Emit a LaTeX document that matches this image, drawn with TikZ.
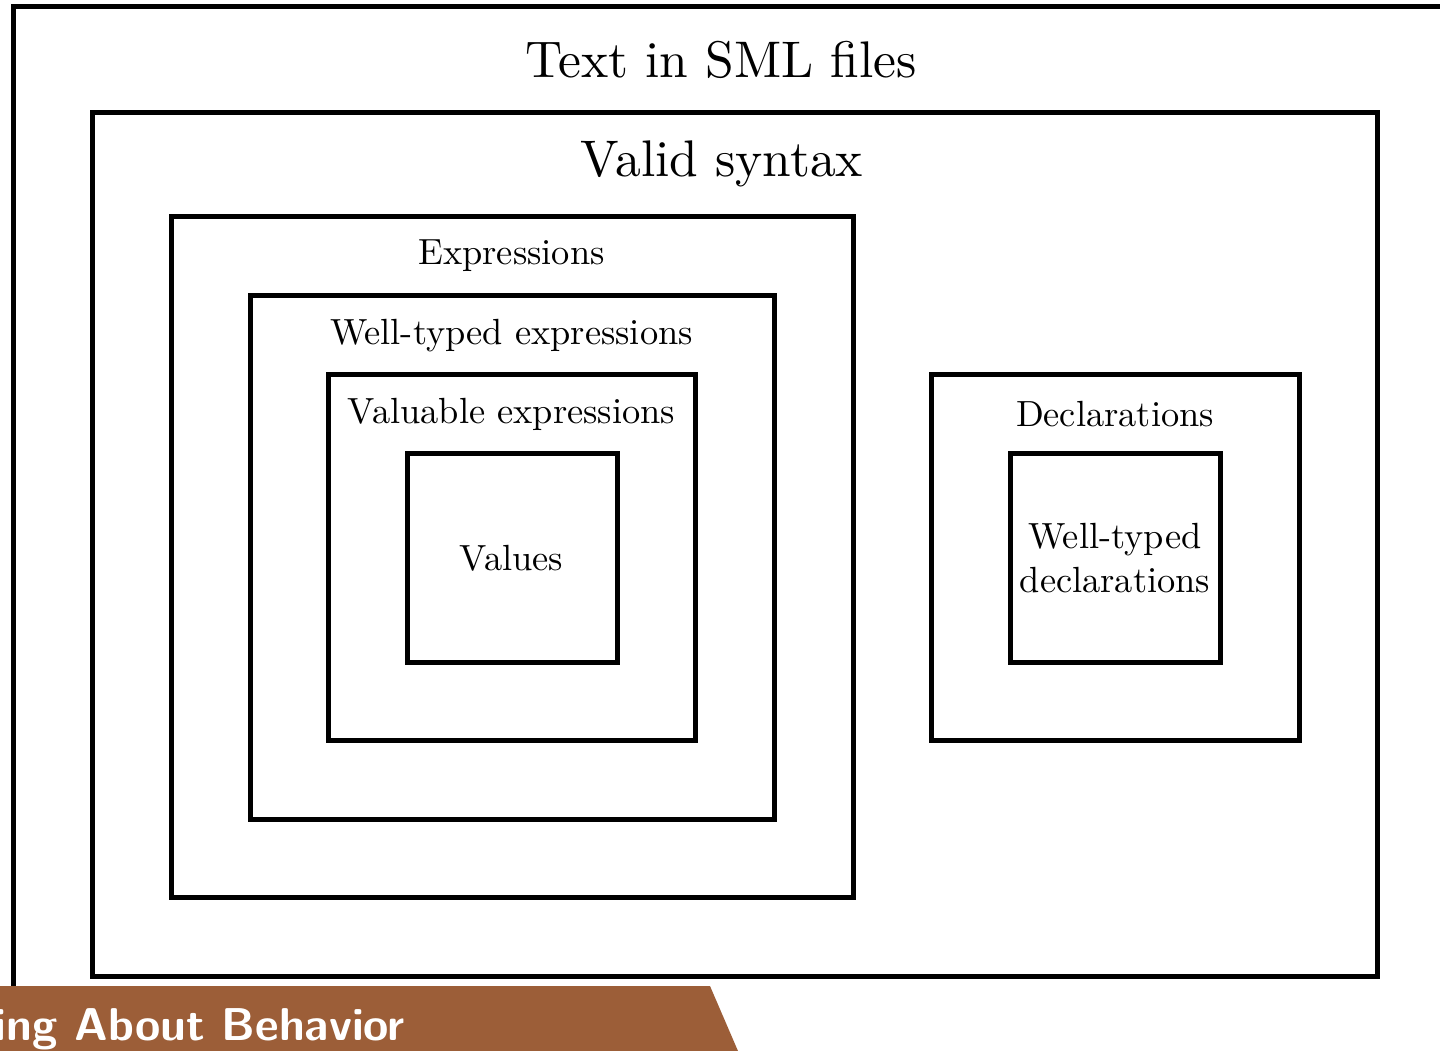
\documentclass[tikz,border=0pt]{standalone}
\usepackage{fontspec}
\setmainfont{lmroman10-regular.otf}
\definecolor{bannerbrown}{RGB}{156,94,56}
\tikzset{
  setbox/.style={draw=black, line width=5pt},
  bigtitle/.style={font=\fontsize{51.5}{60}\selectfont, inner sep=0pt, anchor=base},
  settitle/.style={font=\fontsize{36.4}{44}\selectfont, inner sep=0pt, anchor=base},
}
\begin{document}
\begin{tikzpicture}[x=1pt, y=-1pt]
  \useasboundingbox (0,0) rectangle (1440,1051);
  \clip (0,0) rectangle (1440,1051);

  % nested sets
  \draw[setbox] (13.5,6.5) rectangle (1470,1070);
  \draw[setbox] (92.5,112.5) rectangle (1377,976.5);
  \draw[setbox] (171,216.5) rectangle (853,897);
  \draw[setbox] (250,295.5) rectangle (774,819);
  \draw[setbox] (328.5,374.5) rectangle (695.5,740.5);
  \draw[setbox] (407,453.5) rectangle (617,662);
  \draw[setbox] (931,374.5) rectangle (1299,740.5);
  \draw[setbox] (1010,453.5) rectangle (1220,662);

  % labels
  \node[bigtitle] (txt) at (721,78) {Text in SML files};
  \node[bigtitle] (syn) at (722,177) {Valid syntax};
  \node[settitle] (exp) at (511.5,264) {Expressions};
  \node[settitle] (wte) at (511.5,344) {Well-typed expressions};
  \node[settitle] (vae) at (511.5,423) {Valuable expressions};
  \node[settitle] (val) at (511.5,570) {Values};
  \node[settitle] (dec) at (1115,426) {Declarations};
  \node[settitle, align=center, anchor=center] (wtd) at (1115,558) {Well-typed\\declarations};

  % section banner
  \fill[bannerbrown] (-5,986) -- (710,986) -- (738,1051) -- (740,1060) -- (-5,1060) -- cycle;
  \node[inner sep=0pt, anchor=base east, text=white, font=\sffamily\bfseries\fontsize{46}{52}\selectfont] (ban) at (405,1040) {ing About Behavior};
\end{tikzpicture}
\end{document}
